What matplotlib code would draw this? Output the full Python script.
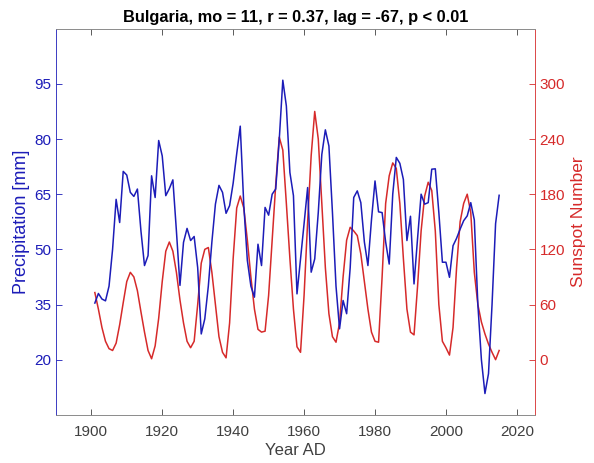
import matplotlib
matplotlib.use("Agg")
import matplotlib.pyplot as plt
import numpy as np

plt.rcParams['font.family'] = ['Liberation Sans', 'DejaVu Sans']

years = list(range(1901, 2016))

precip = [
    35.4, 38.0, 36.5, 36.0, 40.0, 50.0, 63.6, 57.3, 71.2, 70.2,   # 1901-1910
    65.5, 64.4, 66.4, 55.0, 45.6, 48.3, 70.0, 64.1, 79.6, 75.4,   # 1911-1920
    64.6, 66.5, 68.9, 55.0, 40.2, 51.9, 55.7, 52.4, 53.5, 45.0,   # 1921-1930
    27.0, 31.1, 40.0, 52.0, 62.3, 67.4, 65.5, 59.8, 61.9, 68.0,   # 1931-1940
    76.0, 83.5, 62.0, 47.0, 40.0, 37.0, 51.4, 45.6, 61.4, 59.3,   # 1941-1950
    65.0, 66.4, 79.9, 96.0, 89.0, 70.9, 64.6, 37.9, 47.4, 57.0,   # 1951-1960
    66.8, 43.8, 47.4, 60.0, 75.8, 82.5, 78.1, 60.0, 40.0, 28.4,   # 1961-1970
    36.1, 32.5, 45.0, 64.1, 65.9, 62.7, 52.0, 45.6, 58.0, 68.6,   # 1971-1980
    60.2, 60.0, 52.0, 46.0, 65.0, 75.0, 73.4, 69.0, 52.4, 59.0,   # 1981-1990
    40.6, 53.0, 65.0, 62.3, 62.7, 71.8, 71.9, 60.0, 46.5, 46.5,   # 1991-2000
    42.4, 51.0, 53.0, 55.5, 57.8, 59.1, 62.7, 58.0, 35.0, 20.0,   # 2001-2010
    10.8, 16.2, 35.0, 57.0, 64.7,                                 # 2011-2015
]

sunspots = [
    73, 55, 35, 20, 12, 10, 18, 38, 62, 85,        # 1901-1910
    95, 90, 75, 52, 30, 10, 1, 15, 45, 85,         # 1911-1920
    118, 128, 118, 95, 65, 40, 20, 13, 20, 60,     # 1921-1930
    105, 120, 122, 95, 60, 25, 8, 2, 40, 110,      # 1931-1940
    165, 178, 165, 130, 90, 55, 33, 30, 31, 70,    # 1941-1950
    130, 190, 242, 228, 170, 110, 55, 14, 8, 70,   # 1951-1960
    150, 222, 270, 240, 170, 100, 50, 25, 19, 40,  # 1961-1970
    90, 130, 144, 140, 135, 115, 85, 55, 30, 20,   # 1971-1980
    19, 90, 170, 200, 214, 208, 170, 110, 55, 30,  # 1981-1990
    27, 80, 140, 178, 193, 184, 140, 60, 20, 13,   # 1991-2000
    5, 35, 100, 150, 170, 180, 160, 95, 60, 41,    # 2001-2010
    28, 17, 8, 0, 10,                              # 2011-2015
]

x_ticks = [1900, 1920, 1940, 1960, 1980, 2000, 2020]
precip_ticks = [20, 35, 50, 65, 80, 95]
sunspot_ticks = [0, 60, 120, 180, 240, 300]

blue = '#1c1cb8'
red = '#d62a2a'
grey = '#404040'

fig = plt.figure(figsize=(5.94, 4.63), dpi=100)
ax = fig.add_axes([0.094, 0.104, 0.806, 0.834])
ax2 = ax.twinx()

ax.plot(years, precip, color=blue, lw=1.1, zorder=3)
ax2.plot(years, sunspots, color=red, lw=1.1)
ax.set_zorder(ax2.get_zorder() + 1)
ax.patch.set_visible(False)

ax.set_xlim(1890, 2025)
ax.set_ylim(5, 110)
ax2.set_ylim(-60, 360)

ax.set_xticks(x_ticks)
ax.set_yticks(precip_ticks)
ax2.set_yticks(sunspot_ticks)

ax.tick_params(axis='x', direction='in', top=True, labelsize=11,
               colors=grey, length=4, width=0.6, pad=7)
ax.tick_params(axis='y', direction='in', left=True, right=False,
               labelsize=11, colors=blue, length=4, width=0.6)
ax2.tick_params(axis='y', direction='in', right=True, left=False,
                labelsize=11, colors=red, length=4, width=0.6)

for a in (ax, ax2):
    for s in a.spines.values():
        s.set_linewidth(0.6)
    a.spines['top'].set_color('#8c8c8c')
    a.spines['bottom'].set_color('#8c8c8c')
ax.spines['left'].set_color(blue)
ax2.spines['left'].set_visible(False)
ax.spines['right'].set_visible(False)
ax2.spines['right'].set_color(red)

ax.set_xlabel('Year AD', fontsize=12, color=grey, labelpad=3)
ax.set_ylabel('Precipitation [mm]', fontsize=13, color=blue, labelpad=3)
ax2.set_ylabel('Sunspot Number', fontsize=12.5, color=red, labelpad=4)
ax.set_title('Bulgaria, mo = 11, r = 0.37, lag = -67, p < 0.01',
             fontsize=11.8, fontweight='bold', color='black', pad=5)

fig.savefig('out.png', dpi=100)
